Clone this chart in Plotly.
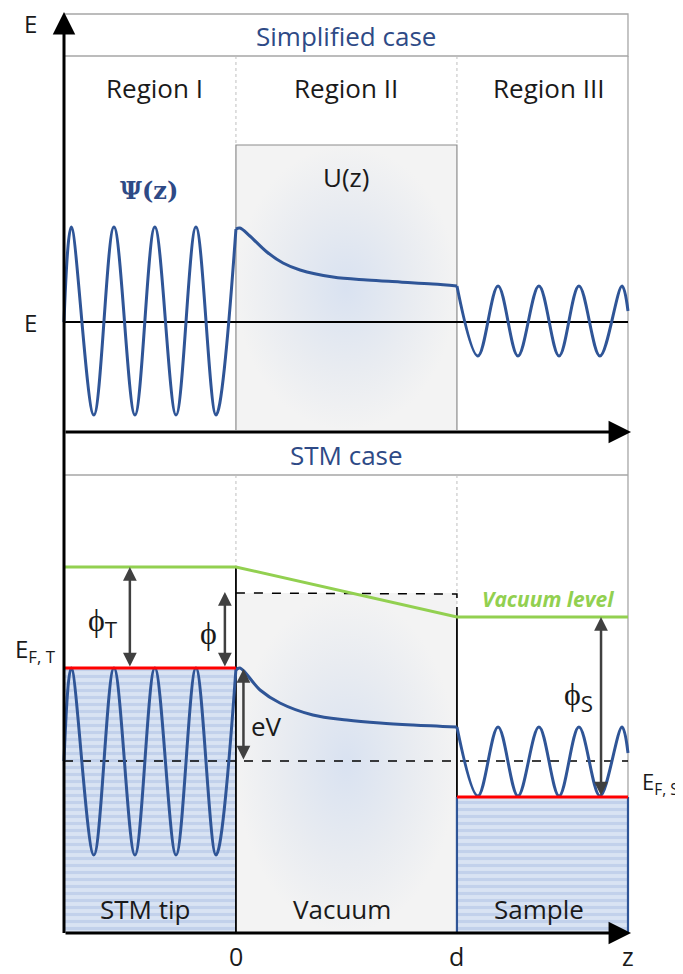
import plotly.graph_objects as go

# ---------------- data (z in units of the gap d, energy in arbitrary units) ----------------
Z_LEFT, Z_TIP, Z_SAMPLE, Z_RIGHT = -0.778, 0.0, 1.0, 1.774

# --- top panel: simplified case ---
E_LEVEL = 611
BARRIER_TOP, BARRIER_BOTTOM = 788, 503
HEADER1 = (877, 919)
AXIS1_Y = 501

wave1_I_z = [-0.778, -0.745, -0.643, -0.552, -0.457, -0.367, -0.271, -0.181, -0.090, 0.0]
wave1_I_e = [611, 706, 518, 706, 518, 706, 518, 706, 518, 704]
wave1_II_z = [0.0, 0.018, 0.063, 0.140, 0.213, 0.290, 0.439, 0.593, 0.742, 0.891, 1.0]
wave1_II_e = [704, 705, 697, 681, 670, 663, 656, 653, 651, 649, 647]
wave1_III_z = [1.0, 1.095, 1.186, 1.276, 1.371, 1.462, 1.552, 1.647, 1.747, 1.774]
wave1_III_e = [647, 577, 647, 577, 647, 577, 647, 577, 647, 622]

# --- bottom panel: STM case ---
HEADER2 = (458, 501)
vac_level_z = [-0.778, 0.0, 1.0, 1.774]
vac_level_e = [366, 366, 316, 316]
BARRIER2_TOP = 340
E_FT, E_FS, E_BIAS = 265, 136, 172

wave2_I_z = [-0.778, -0.745, -0.643, -0.552, -0.457, -0.367, -0.271, -0.181, -0.090, 0.0]
wave2_I_e = [172, 265, 78, 265, 78, 265, 78, 265, 78, 264]
wave2_II_z = [0.0, 0.018, 0.109, 0.199, 0.348, 0.502, 0.652, 0.801, 1.0]
wave2_II_e = [263, 265, 243, 230, 218, 213, 210, 208, 206]
wave2_III_z = [1.0, 1.095, 1.186, 1.276, 1.371, 1.462, 1.552, 1.647, 1.747, 1.774]
wave2_III_e = [206, 137, 206, 137, 206, 137, 206, 137, 206, 180]

# double arrows: (z, e_from, e_to)
arrows = {
    "phi_T": (-0.480, 366, 265),
    "phi": (-0.050, 341, 265),
    "eV": (0.034, 264, 172),
    "phi_S": (1.652, 316, 136),
}

region_labels = ["Region I", "Region II", "Region III"]
region_label_z = [-0.367, 0.498, 1.416]
material_labels = ["STM tip", "Vacuum", "Sample"]
material_label_z = [-0.410, 0.480, 1.371]
z_ticks = ["0", "d", "z"]
z_tick_pos = [0.0, 1.0, 1.774]

# ---------------- styles ----------------
WAVE = "#2F5597"
HEAD = "#2E4A86"
GREEN = "#92D050"
RED = "#FF0000"
GRAYLINE = "#A6A6A6"
ARROW = "#404040"
FONT = "Open Sans"

fig = go.Figure()


def line(x, y, color, width, dash=None, shape="linear"):
    fig.add_trace(go.Scatter(x=x, y=y, mode="lines", hoverinfo="skip",
                             line=dict(color=color, width=width, dash=dash, shape=shape)))


def rect_fill(x0, x1, y0, y1, **kw):
    fig.add_trace(go.Scatter(x=[x0, x1, x1, x0, x0], y=[y0, y0, y1, y1, y0], mode="lines",
                             line=dict(width=0), fill="toself", hoverinfo="skip", **kw))


grad = dict(type="radial", colorscale=[[0, "#D9E2F1"], [0.6, "#E9ECF1"], [1, "#F3F3F3"]])
stripes = dict(shape="-", fgcolor="#ABC0E4", bgcolor="#D9E3F3", size=7, solidity=0.45)

# fills
rect_fill(Z_TIP, Z_SAMPLE, BARRIER_BOTTOM, BARRIER_TOP, fillgradient=grad)
rect_fill(Z_TIP, Z_SAMPLE, 0, BARRIER2_TOP, fillgradient=grad)
rect_fill(Z_LEFT, Z_TIP, 0, E_FT, fillpattern=stripes, fillcolor="#D9E3F3")
rect_fill(Z_SAMPLE, Z_RIGHT, 0, E_FS, fillpattern=stripes, fillcolor="#D9E3F3")

# frame / header boxes
line([Z_LEFT, Z_RIGHT, Z_RIGHT, Z_LEFT], [HEADER1[1], HEADER1[1], HEADER1[0], HEADER1[0]], GRAYLINE, 1.3)
line([Z_RIGHT, Z_RIGHT], [HEADER1[0], E_FS], GRAYLINE, 1.3)
line([Z_LEFT, Z_RIGHT], [HEADER2[0], HEADER2[0]], GRAYLINE, 1.3)
# region separators (dotted)
for zz in (Z_TIP, Z_SAMPLE):
    line([zz, zz], [HEADER1[0], BARRIER_TOP], "#BFBFBF", 1, dash="dot")
line([Z_TIP, Z_TIP], [HEADER2[0], vac_level_e[1]], "#BFBFBF", 1, dash="dot")
line([Z_SAMPLE, Z_SAMPLE], [HEADER2[0], vac_level_e[2]], "#BFBFBF", 1, dash="dot")
# barrier box (top)
line([Z_TIP, Z_TIP, Z_SAMPLE, Z_SAMPLE], [BARRIER_BOTTOM, BARRIER_TOP, BARRIER_TOP, BARRIER_BOTTOM], "#8C8C8C", 1.2)

# energy line E (top)
line([Z_LEFT, Z_RIGHT], [E_LEVEL, E_LEVEL], "black", 2)

# bottom panel lines
line([Z_TIP, Z_TIP], [0, vac_level_e[1]], "black", 1.8)
line([Z_SAMPLE, Z_SAMPLE], [E_FS, vac_level_e[2]], "black", 1.8)
line([Z_SAMPLE, Z_SAMPLE], [0, E_FS], WAVE, 2.2)
line([Z_RIGHT, Z_RIGHT], [0, E_FS], WAVE, 2.2)
line([Z_TIP, Z_SAMPLE, Z_SAMPLE], [BARRIER2_TOP, BARRIER2_TOP - 1, vac_level_e[2]], "black", 1.5, dash="dash")
line([Z_LEFT, Z_RIGHT], [E_BIAS, E_BIAS], "black", 1.5, dash="dash")
line(vac_level_z, vac_level_e, GREEN, 3)

# waves
for zs, es in ((wave1_I_z, wave1_I_e), (wave1_II_z, wave1_II_e), (wave1_III_z, wave1_III_e),
               (wave2_I_z, wave2_I_e), (wave2_II_z, wave2_II_e), (wave2_III_z, wave2_III_e)):
    line(zs, es, WAVE, 3, shape="spline")

line([Z_LEFT, Z_TIP], [E_FT, E_FT], RED, 3)
line([Z_SAMPLE, Z_RIGHT], [E_FS, E_FS], RED, 3)

ann = []


def text(x, y, s, size=22, color="#1A1A1A", family=FONT, xanchor="center"):
    ann.append(dict(x=x, y=y, xref="x", yref="y", text=s, showarrow=False, xanchor=xanchor,
                    yanchor="middle", font=dict(size=size, color=color, family=family)))


def arrow(x, y, ax, ay, width, size, color, both=False):
    ann.append(dict(x=x, y=y, ax=ax, ay=ay, xref="x", yref="y", axref="x", ayref="y", text="",
                    font=dict(size=10), showarrow=True, arrowhead=2, arrowsize=size,
                    arrowwidth=width, arrowcolor=color,
                    arrowside="end+start" if both else "end", standoff=0, startstandoff=0))


# axes
arrow(Z_LEFT, 921, Z_LEFT, -1.5, 3, 1.5, "black")
arrow(1.788, AXIS1_Y, Z_LEFT, AXIS1_Y, 3, 1.5, "black")
arrow(1.788, 0, Z_LEFT, 0, 3, 1.5, "black")

for k, (zz, e0, e1) in arrows.items():
    arrow(zz, e0, zz, e1, 2.5, 1.1, ARROW, both=True)

# texts
text(0.498, 897, "Simplified case", 26, HEAD)
text(0.498, 478, "STM case", 26, HEAD)
for s, zz in zip(region_labels, region_label_z):
    text(zz, 845, s, 26)
text(0.498, 756, "U(z)", 26)
text(-0.395, 743, "<b>Ψ(z)</b>", 24, HEAD, family="DejaVu Serif")
text(-0.930, 910, "E", 24)
text(-0.930, 611, "E", 24)
text(-1.010, 283, "E<sub>F, T</sub>", 24, xanchor="left")
text(1.830, 150, "E<sub>F, S</sub>", 22, xanchor="left")
text(-0.600, 312, "ϕ<sub>T</sub>", 32)
text(-0.125, 302, "ϕ", 32)
text(0.140, 207, "eV", 26)
text(1.548, 238, "ϕ<sub>S</sub>", 32)
text(1.412, 334, "<i><b>Vacuum level</b></i>", 21, GREEN)
for s, zz in zip(material_labels, material_label_z):
    text(zz, 24, s, 26)
for s, zz in zip(z_ticks, z_tick_pos):
    text(zz, -23, s, 25)

# the page adds an 8 px body margin, so the ranges are offset to compensate
# (height trimmed by those 8 px so the page does not overflow the window)
fig.update_layout(
    width=683, height=966, margin=dict(l=0, r=0, t=0, b=0),
    paper_bgcolor="white", plot_bgcolor="white", showlegend=False,
    xaxis=dict(range=[-1.0314, 2.0591], visible=False, fixedrange=True),
    yaxis=dict(range=[-41, 925], visible=False, fixedrange=True),
    annotations=ann,
)
fig.write_html("out.html", config={"displayModeBar": False})
